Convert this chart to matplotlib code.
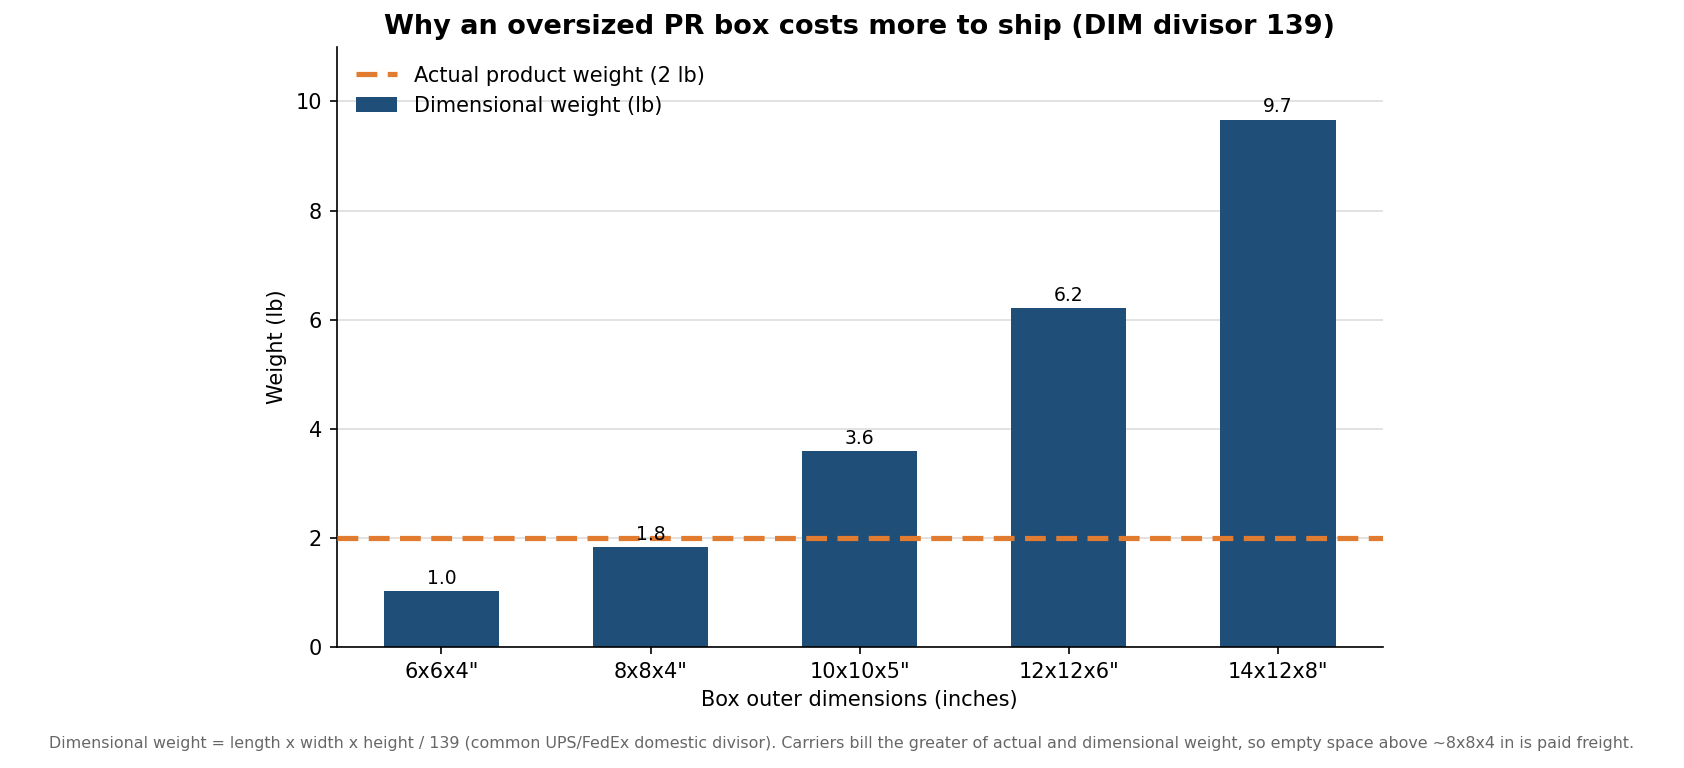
import matplotlib
matplotlib.use("Agg")
import matplotlib.pyplot as plt

boxes = ['6x6x4"', '8x8x4"', '10x10x5"', '12x12x6"', '14x12x8"']
dim_weight = [1.036, 1.842, 3.597, 6.216, 9.669]
actual_weight = 2

fig = plt.figure(figsize=(1684/150, 768/150), dpi=150)
ax = fig.add_axes([0.2, 0.157, 0.621, 0.782])
x = range(len(boxes))
ax.bar(x, dim_weight, width=0.55, color="#1f4e79", label="Dimensional weight (lb)", zorder=2)
ax.axhline(actual_weight, color="#e07b30", linestyle="--", linewidth=2.5, dashes=(4, 2), label="Actual product weight (2 lb)", zorder=3)
for xi, v in zip(x, dim_weight):
    ax.text(xi, v + 0.06, f"{v:.1f}", ha="center", va="bottom", fontsize=9)
ax.set_xticks(list(x))
ax.set_xticklabels(boxes, fontsize=10)
ax.tick_params(axis="y", labelsize=10)
ax.set_ylim(0, 11)
ax.set_xlim(-0.5, 4.5)
ax.set_yticks([0, 2, 4, 6, 8, 10])
ax.yaxis.grid(True, color="#dddddd", linewidth=0.8, zorder=0)
ax.set_axisbelow(True)
for s in ["top", "right"]:
    ax.spines[s].set_visible(False)
ax.set_xlabel("Box outer dimensions (inches)", fontsize=10)
ax.set_ylabel("Weight (lb)", fontsize=10)
ax.set_title("Why an oversized PR box costs more to ship (DIM divisor 139)", fontsize=13, fontweight="bold")
ax.legend(loc="upper left", frameon=False, fontsize=10)
fig.text(0.5, 0.032, "Dimensional weight = length x width x height / 139 (common UPS/FedEx domestic divisor). Carriers bill the greater of actual and dimensional weight, so empty space above ~8x8x4 in is paid freight.",
         ha="center", va="center", fontsize=7.6, color="#666666")
fig.savefig("out.png", dpi=150)
